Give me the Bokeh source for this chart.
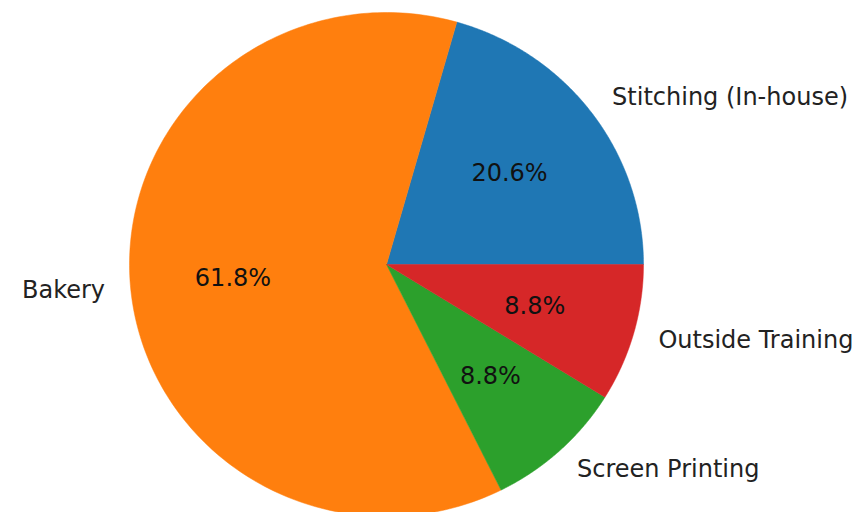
import numpy as np
from bokeh.plotting import figure
from bokeh.models import Range1d, ColumnDataSource
from bokeh.core.properties import value
from bokeh.embed import file_html
from bokeh.resources import INLINE

categories = ["Stitching (In-house)", "Bakery", "Screen Printing", "Outside Training"]
counts = [7, 21, 3, 3]
colors = ["#1f77b4", "#ff7f0e", "#2ca02c", "#d62728"]

W, H = 857, 512
cx, cy = 386, 264      # pie centre in pixels
RX, RY = 257, 252      # pixels per data unit horizontally / vertically

vals = np.array(counts, dtype=float)
frac = vals / vals.sum()
ends = np.cumsum(frac) * 2 * np.pi
starts = np.concatenate([[0.0], ends[:-1]])
mids = (starts + ends) / 2

p = figure(width=W, height=H, output_backend="svg", toolbar_location=None,
           x_range=Range1d(-cx / RX, (W - cx) / RX),
           y_range=Range1d(-(H - cy) / RY, cy / RY),
           min_border=0)
p.axis.visible = False
p.grid.visible = False
p.outline_line_color = None
p.background_fill_color = "white"
p.border_fill_color = "white"

xs, ys = [], []
for s, e in zip(starts, ends):
    t = np.linspace(s, e, 200)
    xs.append(np.concatenate([[0.0], np.cos(t)]))
    ys.append(np.concatenate([[0.0], np.sin(t)]))
src = ColumnDataSource(dict(xs=xs, ys=ys, color=colors))
p.patches(xs="xs", ys="ys", fill_color="color", line_color="color",
          line_width=0.5, source=src)

lx = 1.1 * np.cos(mids)
ly = 1.1 * np.sin(mids)
align = ["left" if x > 0 else "right" for x in lx]
lab = ColumnDataSource(dict(x=lx, y=ly, t=categories, a=align))
p.text(x="x", y="y", text="t", text_align="a", text_baseline="middle",
       text_font=value("DejaVu Sans"), text_font_size="24px", text_color="#222222",
       source=lab)

px = 0.6 * np.cos(mids)
py = 0.6 * np.sin(mids)
pct = ["%.1f%%" % (f * 100) for f in frac]
ps = ColumnDataSource(dict(x=px, y=py, t=pct))
p.text(x="x", y="y", text="t", text_align="center", text_baseline="middle",
       text_font=value("DejaVu Sans"), text_font_size="24px", text_color="#111111",
       source=ps)

open("out.html", "w").write(file_html(p, INLINE))
